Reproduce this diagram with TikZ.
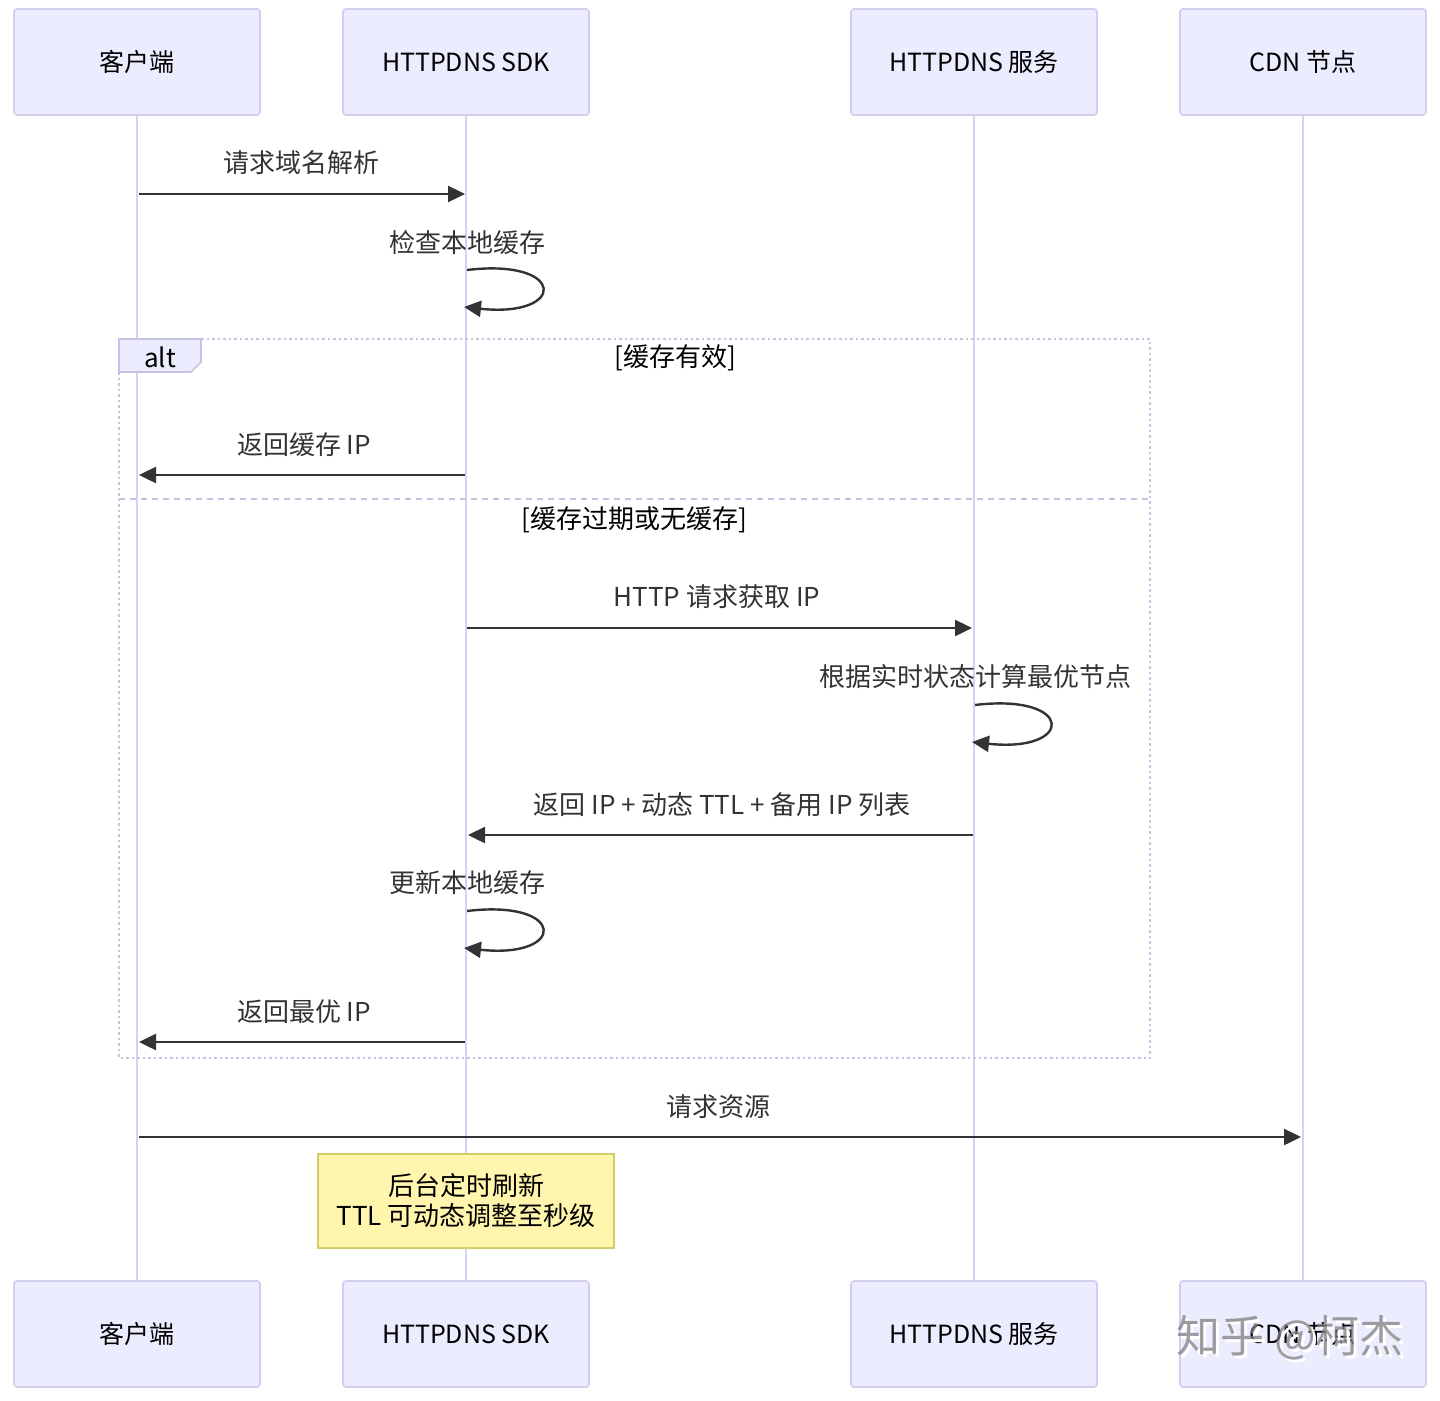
\documentclass[tikz,border=0pt]{standalone}
\usepackage{fontspec}
\setmainfont{Noto Sans CJK SC}
\usetikzlibrary{arrows.meta}
\definecolor{actfill}{HTML}{ECECFF}
\definecolor{actline}{HTML}{D5CDF0}
\definecolor{lifec}{HTML}{D8CFF2}
\definecolor{msgc}{HTML}{333333}
\definecolor{altc}{HTML}{C6C2E2}
\definecolor{notefill}{HTML}{FFF5AD}
\definecolor{noteline}{HTML}{CFCF6A}
\tikzset{
  actor/.style={draw=actline, fill=actfill, line width=1.6pt, rounded corners=3pt,
    minimum width=246pt, minimum height=106pt, inner sep=0pt,
    font=\fontsize{25}{30}\selectfont, text=black},
  lifeline/.style={draw=lifec, line width=2.4pt},
  msg/.style={draw=msgc, line width=2.4pt, -{Triangle[length=17pt,width=16pt]}},
  msglabel/.style={font=\fontsize{26}{30}\selectfont, text=msgc, inner sep=0pt},
  altframe/.style={draw=altc, line width=2.5pt, dash pattern=on 2.5pt off 3pt},
  altsep/.style={draw=altc, line width=2.5pt, dash pattern=on 6pt off 5pt},
  altlabel/.style={font=\fontsize{26}{30}\selectfont, text=black, inner sep=0pt},
  notebox/.style={draw=noteline, fill=notefill, line width=1.6pt,
    minimum width=296pt, minimum height=94pt, inner sep=0pt, align=center,
    font=\fontsize{26}{30}\selectfont, text=black},
  wmark/.style={font=\fontsize{44}{48}\selectfont, inner sep=0pt}
}
\begin{document}
\begin{tikzpicture}[x=1pt,y=-1pt]
\useasboundingbox (0,0) rectangle (1440,1400);
\fill[white] (0,0) rectangle (1440,1400);

% actor boxes (top and bottom)
\node[actor] (a1) at (137,62) {客户端};
\node[actor] (a2) at (466,62) {HTTPDNS SDK};
\node[actor] (a3) at (974,62) {HTTPDNS 服务};
\node[actor] (a4) at (1303,62) {CDN 节点};
\node[actor] (b1) at (137,1334) {客户端};
\node[actor] (b2) at (466,1334) {HTTPDNS SDK};
\node[actor] (b3) at (974,1334) {HTTPDNS 服务};
\node[actor] (b4) at (1303,1334) {CDN 节点};

% lifelines
\draw[lifeline] (a1.south) -- (b1.north);
\draw[lifeline] (a2.south) -- (b2.north);
\draw[lifeline] (a3.south) -- (b3.north);
\draw[lifeline] (a4.south) -- (b4.north);

% alt frame
\draw[altframe] (119,339) rectangle (1150,1058);
\draw[altsep] (119,499) -- (1150,499);
\draw[draw=altc, fill=actfill, line width=1.6pt] (119,339) -- (201,339) -- (201,362) -- (191,372) -- (119,372) -- cycle;
\node[altlabel] (altt) at (160,357) {alt};
\node[altlabel] (g1) at (675,358) {[缓存有效]};
\node[altlabel] (g2) at (634,520) {[缓存过期或无缓存]};

% message 1
\coordinate (m1s) at (139,194);
\coordinate (m1e) at (465,194);
\draw[msg] (m1s) -- (m1e);
\node[msglabel] (l1) at (301,163) {请求域名解析};

% self loop 1
\coordinate (s1a) at (467,270);
\coordinate (s1b) at (464,307);
\node[msglabel] (l2) at (467,243) {检查本地缓存};
\draw[msg] (s1a) .. controls (567,258) and (567,318) .. (s1b);

% return cached IP
\coordinate (m3s) at (465,475);
\coordinate (m3e) at (139,475);
\draw[msg] (m3s) -- (m3e);
\node[msglabel] (l3) at (304,445) {返回缓存 IP};

% HTTP request
\coordinate (m4s) at (467,628);
\coordinate (m4e) at (972,628);
\draw[msg] (m4s) -- (m4e);
\node[msglabel] (l4) at (717,597) {HTTP 请求获取 IP};

% self loop 2
\coordinate (s2a) at (975,705);
\coordinate (s2b) at (972,742);
\node[msglabel] (l5) at (975,677) {根据实时状态计算最优节点};
\draw[msg] (s2a) .. controls (1075,693) and (1075,753) .. (s2b);

% return IP + TTL
\coordinate (m6s) at (973,835);
\coordinate (m6e) at (468,835);
\draw[msg] (m6s) -- (m6e);
\node[msglabel] (l6) at (722,805) {返回 IP + 动态 TTL + 备用 IP 列表};

% self loop 3
\coordinate (s3a) at (467,911);
\coordinate (s3b) at (464,948);
\node[msglabel] (l7) at (467,883) {更新本地缓存};
\draw[msg] (s3a) .. controls (567,899) and (567,959) .. (s3b);

% return best IP
\coordinate (m8s) at (465,1042);
\coordinate (m8e) at (139,1042);
\draw[msg] (m8s) -- (m8e);
\node[msglabel] (l8) at (304,1012) {返回最优 IP};

% request resource
\coordinate (m9s) at (139,1137);
\coordinate (m9e) at (1301,1137);
\draw[msg] (m9s) -- (m9e);
\node[msglabel] (l9) at (718,1107) {请求资源};

% note
\node[notebox] (note) at (466,1201) {后台定时刷新\\TTL 可动态调整至秒级};

% watermark
\node[wmark, text=white] (wm0) at (1293,1341) {知乎 @柯杰};
\node[wmark, text=gray, opacity=0.75] (wm) at (1290,1338) {知乎 @柯杰};
\end{tikzpicture}
\end{document}
